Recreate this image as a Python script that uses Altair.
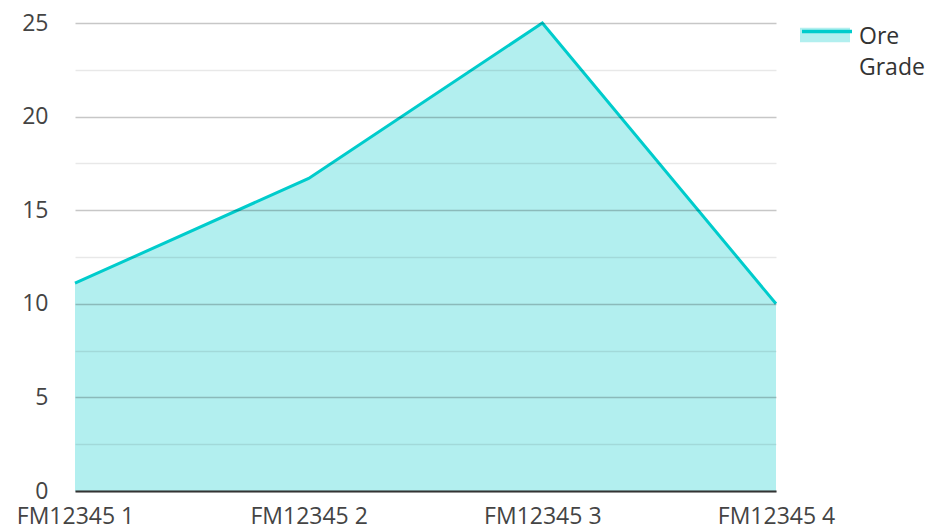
import altair as alt
import pandas as pd

categories = ["FM12345 1", "FM12345 2", "FM12345 3", "FM12345 4"]
ore_grade = [11.1, 16.7, 25.0, 10.0]
series_name = "Ore Grade"
y_ticks = [0, 2.5, 5, 7.5, 10, 12.5, 15, 17.5, 20, 22.5, 25]

df = pd.DataFrame({"cat": categories, "value": ore_grade, "series": [series_name] * len(categories)})

FONT = "Open Sans"
FS = 23
LINE = "#00cccc"
FILL = "#b2efef"

x_enc = alt.X("cat:N", sort=categories, scale=alt.Scale(type="point", padding=0),
              axis=alt.Axis(title=None, labelAngle=0, labelFontSize=FS, labelColor="#444444",
                            labelFont=FONT, ticks=False, labelPadding=14, domainColor="#333333",
                            domainWidth=2, grid=False, zindex=1, labelOverlap=False))
y_enc = alt.Y("value:Q", scale=alt.Scale(domain=[0, 25], nice=False),
              axis=alt.Axis(title=None, values=y_ticks, labelExpr="datum.value % 5 === 0 ? datum.label : ''",
                            labelFontSize=FS, labelColor="#444444", labelFont=FONT, ticks=False,
                            domain=False, labelPadding=27, zindex=1,
                            gridColor="#000000",
                            gridOpacity={"condition": {"test": "datum.value % 5 === 0", "value": 0.22}, "value": 0.09},
                            gridWidth=1.5))

area = alt.Chart(df).mark_area(opacity=1).encode(
    x=x_enc, y=y_enc,
    fill=alt.Fill("series:N", scale=alt.Scale(range=[FILL]),
                  legend=alt.Legend(title=None, orient="none", legendX=725, legendY=-13,
                                    symbolType="M-1,-0.29L1,-0.29L1,0.29L-1,0.29Z", symbolSize=2500,
                                    symbolStrokeWidth=0, labelExpr="''", labelFontSize=FS,
                                    labelOffset=5, labelFont=FONT)),
)
line = alt.Chart(df).mark_line(strokeWidth=3).encode(
    x=x_enc, y=y_enc,
    stroke=alt.Stroke("series:N", scale=alt.Scale(range=[LINE]),
                      legend=alt.Legend(title=None, orient="none", legendX=725, legendY=-13,
                                        symbolType="M-1,-0.22L1,-0.22", symbolSize=2500,
                                        symbolStrokeWidth=3.5, symbolFillColor="transparent",
                                        labelExpr="split(datum.label, ' ')", labelFontSize=FS,
                                        labelColor="#333333", labelOffset=5, labelFont=FONT,
                                        labelBaseline="middle")),
)

chart = alt.layer(area, line).resolve_scale(fill="independent", stroke="independent").properties(
    width=701, height=468,
    autosize=alt.AutoSizeParams(type="none"),
    padding={"left": 67, "top": 15, "right": 149, "bottom": 37},
).configure(
    font=FONT,
    style={"guide-label": {"lineHeight": 31, "fontSize": FS, "font": FONT}},
).configure_view(stroke=None)

chart.save("out.html", embed_options={"renderer": "svg", "actions": False})
